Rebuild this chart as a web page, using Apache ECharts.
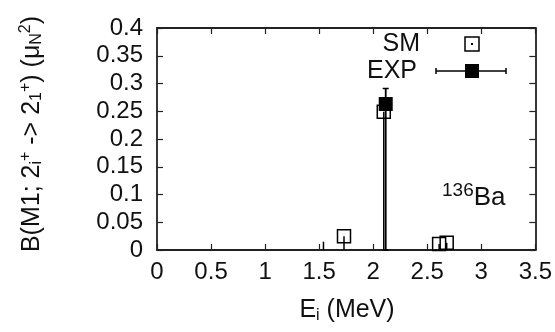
<!DOCTYPE html>
<html>
<head>
<meta charset="utf-8">
<script src="https://cdn.jsdelivr.net/npm/echarts@6/dist/echarts.min.js"></script>
<style>
  html, body { margin: 0; padding: 0; background: #fff; }
  #chart { width: 555px; height: 332px; }
</style>
</head>
<body>
<div id="chart"></div>
<script>
// Shell-model M1 strengths, 2+_i -> 2+_1 in 136Ba
const smEnergy   = [1.73, 2.098, 2.61, 2.68];
const smStrength = [0.025, 0.249, 0.011, 0.013];

// Lone impulse drawn without a marker
const bareEnergy   = [1.54];
const bareStrength = [0.015];

// Measured strength with its uncertainty
const expEnergy   = [2.116];
const expStrength = [0.263];
const expLow      = [0.0];
const expHigh     = [0.291];

// Axis ranges and tick steps
const xMin = 0, xMax = 3.5, xStep = 0.5;
const yMin = 0, yMax = 0.4, yStep = 0.05;

const FONT = '"Liberation Sans", Arial, Helvetica, sans-serif';
const INK = '#111';
const FRAME = '#222';

const chart = echarts.init(document.getElementById('chart'), null, { renderer: 'canvas' });

const smData = smEnergy.map((e, i) => [e, smStrength[i]]);
const bareData = bareEnergy.map((e, i) => [e, bareStrength[i]]);
const expData = expEnergy.map((e, i) => [e, expStrength[i]]);
const expBarData = expEnergy.map((e, i) => [e, expLow[i], expHigh[i]]);

function impulse(params, api) {
  const x = api.value(0), y = api.value(1);
  const p0 = api.coord([x, 0]);
  const p1 = api.coord([x, y]);
  return {
    type: 'line',
    shape: { x1: p0[0], y1: p0[1], x2: p1[0], y2: p1[1] },
    style: { stroke: '#000', lineWidth: 1.5 }
  };
}

function errorBar(params, api) {
  const x = api.value(0);
  const lo = api.coord([x, api.value(1)]);
  const hi = api.coord([x, api.value(2)]);
  const cap = 3;
  return {
    type: 'group',
    children: [
      { type: 'line', shape: { x1: lo[0], y1: lo[1], x2: hi[0], y2: hi[1] }, style: { stroke: '#000', lineWidth: 1.8 } },
      { type: 'line', shape: { x1: hi[0] - cap, y1: hi[1], x2: hi[0] + cap, y2: hi[1] }, style: { stroke: '#000', lineWidth: 1.5 } },
      { type: 'line', shape: { x1: lo[0] - cap, y1: lo[1], x2: lo[0] + cap, y2: lo[1] }, style: { stroke: '#000', lineWidth: 1.5 } }
    ]
  };
}

const axisCommon = {
  type: 'value',
  axisLine: { show: true, onZero: false, lineStyle: { color: FRAME, width: 1.8 } },
  axisTick: { show: true, inside: true, length: 6, lineStyle: { color: FRAME, width: 1.2 } },
  splitLine: { show: false },
  minorTick: { show: false }
};

chart.setOption({
  animation: false,
  backgroundColor: '#fff',
  grid: { left: 157, right: 18, top: 28, bottom: 82, containLabel: false },
  xAxis: [
    Object.assign({}, axisCommon, {
      position: 'bottom', min: xMin, max: xMax, interval: xStep,
      axisLabel: { show: true, margin: 10, fontSize: 24, fontFamily: FONT, color: INK }
    }),
    Object.assign({}, axisCommon, {
      position: 'top', min: xMin, max: xMax, interval: xStep,
      axisLabel: { show: false }
    })
  ],
  yAxis: [
    Object.assign({}, axisCommon, {
      position: 'left', min: yMin, max: yMax, interval: yStep,
      axisLabel: { show: true, margin: 14, fontSize: 24, fontFamily: FONT, color: INK }
    }),
    Object.assign({}, axisCommon, {
      position: 'right', min: yMin, max: yMax, interval: yStep,
      axisLabel: { show: false }
    })
  ],
  series: [
    { name: 'SM impulses', type: 'custom', renderItem: impulse, data: smData, z: 2 },
    { name: 'bare impulses', type: 'custom', renderItem: impulse, data: bareData, z: 2 },
    { name: 'EXP error', type: 'custom', renderItem: errorBar, data: expBarData, z: 3 },
    {
      name: 'EXP', type: 'scatter', data: expData, symbol: 'rect', symbolSize: 14,
      itemStyle: { color: '#000', opacity: 1 }, z: 4
    },
    {
      name: 'SM', type: 'scatter', data: smData, symbol: 'rect', symbolSize: 13,
      itemStyle: { color: 'rgba(255,255,255,0)', borderColor: '#000', borderWidth: 1.5, opacity: 1 }, z: 5
    }
  ],
  graphic: [
    // y-axis title
    {
      type: 'text', x: 32, y: 134, rotation: Math.PI / 2,
      style: {
        text: 'B(M1; 2{sub|i}{sup|+} -> 2{sub|1}{sup|+}) (μ{sub|N}{sup|2})',
        fontSize: 25, fontFamily: FONT, fill: INK,
        align: 'center', verticalAlign: 'middle',
        rich: {
          sub: { fontSize: 16, fontFamily: FONT, fill: INK, padding: [10, 0, 0, 0] },
          sup: { fontSize: 16, fontFamily: FONT, fill: INK, padding: [0, 0, 13, 0] }
        }
      }
    },
    // x-axis title
    {
      type: 'text', x: 347, y: 310,
      style: {
        text: 'E{sub|i} (MeV)',
        fontSize: 25, fontFamily: FONT, fill: INK,
        align: 'center', verticalAlign: 'middle',
        rich: { sub: { fontSize: 16, fontFamily: FONT, fill: INK, padding: [12, 0, 0, 0] } }
      }
    },
    // nucleus label
    {
      type: 'text', x: 442, y: 198,
      style: {
        text: '{sup|136}Ba',
        fontSize: 26, fontFamily: FONT, fill: INK,
        align: 'left', verticalAlign: 'middle',
        rich: { sup: { fontSize: 19, fontFamily: FONT, fill: INK, padding: [0, 0, 14, 0] } }
      }
    },
    // key: SM
    {
      type: 'text', x: 420, y: 44,
      style: { text: 'SM', fontSize: 25, fontFamily: FONT, fill: INK, align: 'right', verticalAlign: 'middle' }
    },
    {
      type: 'rect', shape: { x: 465, y: 37, width: 14, height: 14 },
      style: { fill: 'none', stroke: '#000', lineWidth: 1.5 }
    },
    { type: 'rect', shape: { x: 471, y: 43, width: 2, height: 2 }, style: { fill: '#000' } },
    // key: EXP
    {
      type: 'text', x: 417, y: 71,
      style: { text: 'EXP', fontSize: 25, fontFamily: FONT, fill: INK, align: 'right', verticalAlign: 'middle' }
    },
    { type: 'line', shape: { x1: 436, y1: 71, x2: 506, y2: 71 }, style: { stroke: '#000', lineWidth: 1.5 } },
    { type: 'line', shape: { x1: 436, y1: 68, x2: 436, y2: 74 }, style: { stroke: '#000', lineWidth: 1.5 } },
    { type: 'line', shape: { x1: 506, y1: 68, x2: 506, y2: 74 }, style: { stroke: '#000', lineWidth: 1.5 } },
    { type: 'rect', shape: { x: 465, y: 64, width: 14, height: 14 }, style: { fill: '#000' } }
  ]
});
</script>
</body>
</html>
